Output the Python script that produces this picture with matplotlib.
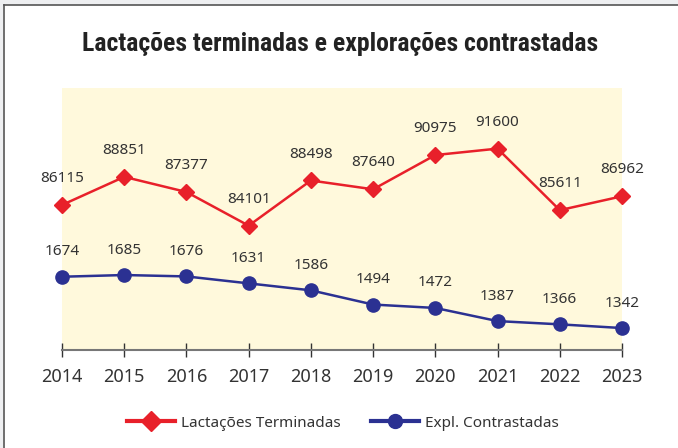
import matplotlib
matplotlib.use("Agg")
import matplotlib.pyplot as plt
from matplotlib import font_manager
from matplotlib.patches import Rectangle
from matplotlib.lines import Line2D

years = [2014, 2015, 2016, 2017, 2018, 2019, 2020, 2021, 2022, 2023]
lactacoes = [86115, 88851, 87377, 84101, 88498, 87640, 90975, 91600, 85611, 86962]
exploracoes = [1674, 1685, 1676, 1631, 1586, 1494, 1472, 1387, 1366, 1342]

title = "Lactações terminadas e explorações contrastadas"
label_lact = "Lactações Terminadas"
label_expl = "Expl. Contrastadas"

RED = "#E8202A"
BLUE = "#2B3192"
TXT = "#333333"
plt.rcParams["font.family"] = ["Noto Sans", "DejaVu Sans"]

# narrow face for the title if one is around
installed = {f.name for f in font_manager.fontManager.ttflist}
title_font = "DejaVu Sans"
title_size = 14
for name, size in [("Liberation Sans Narrow", 18.5), ("Roboto Condensed", 18.5),
                   ("Open Sans Condensed", 18.5), ("Noto Sans Condensed", 18),
                   ("DejaVu Sans Condensed", 16.5)]:
    if name in installed:
        title_font, title_size = name, size
        break

fig = plt.figure(figsize=(6.78, 4.48), dpi=100)

# page frame bits (top band + left band)
fig.patches.append(Rectangle((0, 1 - 5 / 448), 1, 5 / 448, transform=fig.transFigure,
                             facecolor="#EEEFF1", edgecolor="none"))
fig.patches.append(Rectangle((0, 0), 3 / 678, 1, transform=fig.transFigure,
                             facecolor="#EEEFF1", edgecolor="none"))
fig.add_artist(Line2D([3.5 / 678, 1], [1 - 5.5 / 448, 1 - 5.5 / 448], transform=fig.transFigure,
                      color="#555555", lw=1.2))
fig.add_artist(Line2D([3.5 / 678, 3.5 / 678], [0, 1 - 5.5 / 448], transform=fig.transFigure,
                      color="#555555", lw=1.2))

ax = fig.add_axes([62 / 678, 1 - 350 / 448, 560 / 678, 262 / 448])
ax.set_facecolor("#FFF9DC")
ax2 = ax.twinx()

ax.plot(years, lactacoes, color=RED, lw=1.8, marker="D", ms=8, clip_on=False, zorder=3)
ax2.plot(years, exploracoes, color=BLUE, lw=1.8, marker="o", ms=9.5, clip_on=False, zorder=3)

ax.set_xlim(2014, 2023)
ax.set_ylim(72000, 97500)
ax2.set_ylim(1200, 2895)

for x, v in zip(years, lactacoes):
    ax.annotate(str(v), (x, v), xytext=(0, 19), textcoords="offset points",
                ha="center", va="center", fontsize=11, color=TXT)
for x, v in zip(years, exploracoes):
    ax2.annotate(str(v), (x, v), xytext=(0, 18), textcoords="offset points",
                 ha="center", va="center", fontsize=11, color=TXT)

for a in (ax, ax2):
    for s in ("top", "left", "right"):
        a.spines[s].set_visible(False)
    a.set_yticks([])
ax2.spines["bottom"].set_visible(False)
ax.spines["bottom"].set_color("#777777")
ax.spines["bottom"].set_linewidth(1.5)
ax.set_xticks(years)
ax.set_xticklabels([str(y) for y in years])
ax.tick_params(axis="x", direction="inout", length=10, width=1, color="#333333",
               labelsize=13, labelcolor=TXT, pad=8)

fig.text(340 / 678, 1 - 44 / 448, title, ha="center", va="center", fontsize=title_size,
         fontweight="bold", color="#222222", family=[title_font, "DejaVu Sans"])

handles = [Line2D([], [], color=RED, lw=3, marker="D", ms=10),
           Line2D([], [], color=BLUE, lw=3, marker="o", ms=10)]
fig.legend(handles, [label_lact, label_expl], loc="center", bbox_to_anchor=(343 / 678, 1 - 423 / 448),
           ncol=2, frameon=False, fontsize=11, handlelength=3.1, handletextpad=0.4,
           columnspacing=2.0, labelcolor=TXT)

fig.savefig("out.png", dpi=100)
